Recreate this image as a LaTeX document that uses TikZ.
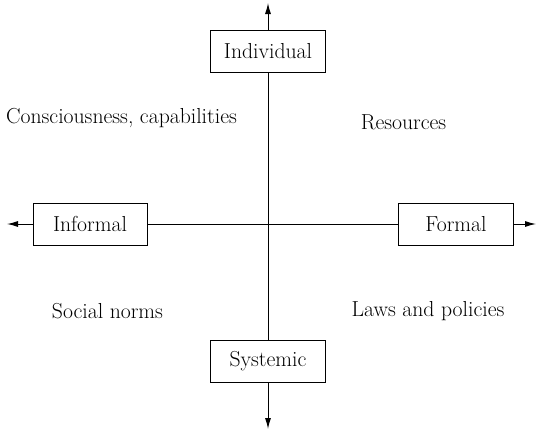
\documentclass[tikz,border=0pt]{standalone}
\usepackage{tikz}
\usetikzlibrary{arrows.meta,positioning}

\begin{document}
\begin{tikzpicture}[
    x=1pt, y=-1pt,
    font=\fontsize{21.7}{26}\selectfont,
    box/.style={rectangle, draw, line width=1pt, fill=white, minimum width=115pt, minimum height=42pt, align=center},
    axis/.style={line width=1pt, -{Latex[length=11pt,width=6pt]}},
    label/.style={align=center}
]
    \useasboundingbox (0,0) rectangle (538,431);

    % Axis boxes
    \node[box] (ind) at (268,51) {Individual};
    \node[box] (sys) at (268,361) {Systemic};
    \node[box, minimum width=114pt] (inf) at (90,224) {Informal};
    \node[box] (frm) at (456,224) {Formal};

    % Arrow ends
    \coordinate (top) at (268,3);
    \coordinate (bot) at (268,429);
    \coordinate (lft) at (7,224);
    \coordinate (rgt) at (536,224);

    % Quadrant labels
    \node[label] (cons) at (121.5,118) {Consciousness, capabilities};
    \node[label] (res) at (403.5,122) {Resources};
    \node[label] (soc) at (107.5,311) {Social norms};
    \node[label] (law) at (428,311) {Laws and policies};

    % Edges
    \draw[line width=1pt] (ind) -- (sys);
    \draw[line width=1pt] (inf) -- (frm);
    \draw[axis] (ind) -- (top);
    \draw[axis] (sys) -- (bot);
    \draw[axis] (inf) -- (lft);
    \draw[axis] (frm) -- (rgt);
\end{tikzpicture}
\end{document}
